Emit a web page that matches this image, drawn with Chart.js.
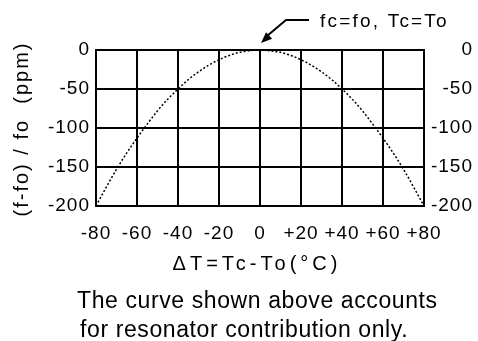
<!DOCTYPE html>
<html>
<head>
<meta charset="utf-8">
<script src="https://cdn.jsdelivr.net/npm/chart.js@4/dist/chart.umd.min.js"></script>
<style>
  html, body { margin: 0; padding: 0; background: #fff; }
  #wrap { position: relative; width: 478px; height: 341px; }
</style>
</head>
<body>
<div id="wrap"><canvas id="c" width="478" height="341"></canvas></div>
<script>
// Temperature offset from turnover point, ΔT = Tc - To (°C)
const tempOffsets = [-80, -75, -70, -65, -60, -55, -50, -45, -40, -35, -30, -25, -20, -15, -10, -5,
                     0, 5, 10, 15, 20, 25, 30, 35, 40, 45, 50, 55, 60, 65, 70, 75, 80];
// Frequency deviation (f - fo) / fo in ppm
const freqDeviation = [-200, -176, -153, -132, -113, -95, -78, -63, -50, -38, -28, -19.5, -12.5, -7, -3, -1,
                       0, -1, -3, -7, -12.5, -19.5, -28, -38, -50, -63, -78, -95, -113, -132, -153, -176, -200];
// Axis ticks
const xTickValues = [-80, -60, -40, -20, 0, 20, 40, 60, 80];
const yTickValues = [0, -50, -100, -150, -200];

// Text
const yTitle = '(f-fo) / fo  (ppm)';
const xTitle = 'ΔT=Tc-To(°C)';
const markerText = 'fc=fo, Tc=To';
const noteLines = ['The curve shown above accounts', 'for resonator contribution only.'];

const FONT = "'Liberation Sans', Arial, sans-serif";
const points = tempOffsets.map((t, i) => ({ x: t, y: freqDeviation[i] }));

const fmtX = v => (v > 0 ? '+' + v : String(v));

const textPlugin = {
  id: 'extraText',
  beforeDraw(chart) {
    chart.ctx.letterSpacing = '1px';
  },
  afterDraw(chart) {
    const ctx = chart.ctx;
    const xs = chart.scales.x, ys = chart.scales.y;
    ctx.save();
    ctx.fillStyle = '#000';
    ctx.strokeStyle = '#000';

    // rotated y-axis title
    ctx.save();
    ctx.font = '20px ' + FONT;
    ctx.letterSpacing = '2px';
    ctx.textAlign = 'center';
    ctx.textBaseline = 'middle';
    ctx.translate(22, (ys.top + ys.bottom) / 2 + 1);
    ctx.rotate(-Math.PI / 2);
    ctx.fillText(yTitle, 0, 0);
    ctx.restore();

    // x-axis title
    ctx.font = '20px ' + FONT;
    ctx.letterSpacing = '4px';
    ctx.textAlign = 'center';
    ctx.textBaseline = 'alphabetic';
    ctx.fillText(xTitle, 257, 270);

    // note under the chart
    ctx.font = '23px ' + FONT;
    ctx.letterSpacing = '0.6px';
    ctx.textAlign = 'left';
    ctx.fillText(noteLines[0], 77, 308);
    ctx.fillText(noteLines[1], 80, 337);

    // marker at the turnover point
    const tipX = xs.getPixelForValue(0) + 1;
    const tipY = ys.getPixelForValue(0) - 7;
    ctx.font = '19px ' + FONT;
    ctx.letterSpacing = '2.2px';
    ctx.fillText(markerText, 320, 27);
    ctx.lineWidth = 2;
    ctx.beginPath();
    ctx.moveTo(309, 20);
    ctx.lineTo(286, 20);
    ctx.lineTo(tipX + 6, tipY - 7);
    ctx.stroke();
    // arrow head
    const ang = Math.atan2(tipY - 20, tipX - 286);
    const len = 11, half = 4.5;
    const bx = tipX - len * Math.cos(ang), by = tipY - len * Math.sin(ang);
    ctx.beginPath();
    ctx.moveTo(tipX, tipY);
    ctx.lineTo(bx + half * Math.sin(ang), by - half * Math.cos(ang));
    ctx.lineTo(bx - half * Math.sin(ang), by + half * Math.cos(ang));
    ctx.closePath();
    ctx.fill();
    ctx.restore();
  }
};

new Chart(document.getElementById('c'), {
  type: 'scatter',
  data: {
    datasets: [{
      data: points,
      showLine: true,
      borderColor: '#000',
      borderWidth: 1.5,
      borderDash: [2, 2],
      pointRadius: 0,
      cubicInterpolationMode: 'monotone',
      clip: false
    }]
  },
  options: {
    responsive: false,
    devicePixelRatio: 1,
    animation: false,
    layout: { padding: { left: 0, right: 5, top: 50, bottom: 0 } },
    plugins: { legend: { display: false }, tooltip: { enabled: false } },
    scales: {
      x: {
        type: 'linear',
        min: -80, max: 80,
        afterBuildTicks: s => { s.ticks = xTickValues.map(v => ({ value: v })); },
        afterFit: s => { s.height = 135; },
        ticks: { callback: fmtX, color: '#000', font: { size: 19, family: FONT }, padding: 16, maxRotation: 0, autoSkip: false },
        grid: { color: '#000', lineWidth: 2, drawTicks: false },
        border: { color: '#000', width: 2 }
      },
      y: {
        position: 'left',
        min: -200, max: 0,
        afterBuildTicks: s => { s.ticks = yTickValues.map(v => ({ value: v })); },
        afterFit: s => { s.width = 96; },
        ticks: { color: '#000', font: { size: 19, family: FONT }, padding: 6, autoSkip: false },
        grid: { color: '#000', lineWidth: 2, drawTicks: false },
        border: { color: '#000', width: 2 }
      },
      y2: {
        position: 'right',
        min: -200, max: 0,
        afterBuildTicks: s => { s.ticks = yTickValues.map(v => ({ value: v })); },
        afterFit: s => { s.width = 49; },
        ticks: { color: '#000', font: { size: 19, family: FONT }, crossAlign: 'far', autoSkip: false },
        grid: { display: false, drawTicks: false },
        border: { color: '#000', width: 2 }
      }
    }
  },
  plugins: [textPlugin]
});
</script>
</body>
</html>
